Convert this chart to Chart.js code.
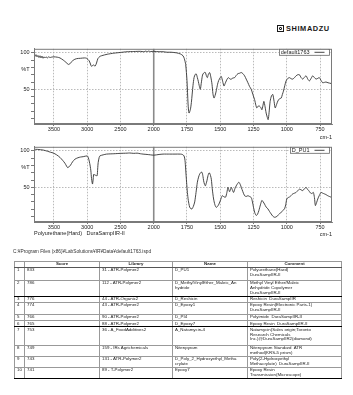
<!DOCTYPE html>
<html><head><meta charset="utf-8">
<script src="https://cdn.jsdelivr.net/npm/chart.js@4/dist/chart.umd.min.js"></script>
<style>
html,body{margin:0;padding:0;background:#fff;width:353px;height:395px;overflow:hidden;font-family:"Liberation Sans",Arial,sans-serif;color:#222;position:relative}
.abs{position:absolute}
canvas{position:absolute;left:0}
#c1{top:44px}
#c2{top:142px}
#logo{left:277px;top:24px;height:8px;display:flex;align-items:center;font-weight:bold;font-size:7.4px;letter-spacing:0.6px;color:#1a1a1a}
#logo .ic{width:5px;height:5px;border:1px solid #1a1a1a;margin-right:2px;position:relative}
#logo .ic i{position:absolute;left:1px;top:1px;width:3px;height:3px;border:0.7px solid #1a1a1a;box-sizing:border-box;border-radius:1px}
#sample{left:34px;top:230px;font-size:5.5px;white-space:pre;line-height:6px}
#path{left:13px;top:249px;font-size:4.8px;white-space:pre;line-height:6px;color:#333}
#tbl{position:absolute;left:14px;top:261px;border-collapse:collapse;table-layout:fixed;border:1px solid #000;font-size:4.4px;line-height:4.7px;color:#222}
#tbl td,#tbl th{border:1px solid #999;padding:0.5px 1.5px 0 2px;vertical-align:top;white-space:pre;overflow:hidden}
#tbl th{font-weight:bold;text-align:center;padding:0;height:4px;border-bottom:1px solid #555}
#tbl tr.thick td{border-bottom:1px solid #000}
</style>
</head><body>
<div id="logo" class="abs"><span class="ic"><i></i></span>SHIMADZU</div>
<canvas id="c1" width="353" height="98"></canvas>
<canvas id="c2" width="353" height="98"></canvas>
<div id="sample" class="abs">Polyurethane(Hard)   DuraSampIIR-II</div>
<div id="path" class="abs">C:¥Program Files (x86)¥LabSolutions¥IR¥Data¥default1763.ispd</div>
<table id="tbl"><colgroup><col style="width:10px"><col style="width:75px"><col style="width:73px"><col style="width:75px"><col style="width:94px"></colgroup><tbody id="tb"></tbody></table>
<script>
// ---------- data ----------
const xTickValues = [3500, 3000, 2500, 2000, 1750, 1500, 1250, 1000, 750];
const yTickValues = [10, 20, 30, 40, 50, 60, 70, 77, 80, 90, 100];
const yTickLabels = ['', '', '', '', '50', '', '', '%T', '', '', '100'];
const splitAt = 2000;

const topLabel = 'default1763';
const topWavenumbers = [3800,3785,3770,3755,3740,3725,3710,3695,3680,3665,3650,3635,3620,3600,3580,3560,3540,3500,3450,3410,3360,3320,3290,3275,3250,3210,3160,3100,3040,3010,2970,2945,2935,2920,2910,2895,2880,2860,2840,2810,2785,2700,2600,2500,2400,2300,2200,2150,2120,2100,2080,2050,2000,1960,1930,1900,1870,1830,1800,1780,1770,1760,1750,1742,1735,1725,1717,1705,1697,1688,1680,1672,1665,1658,1650,1643,1635,1630,1620,1612,1605,1597,1590,1580,1572,1562,1555,1547,1538,1530,1520,1512,1500,1492,1482,1472,1463,1455,1445,1437,1427,1417,1405,1392,1380,1367,1355,1342,1330,1317,1305,1292,1280,1267,1255,1242,1232,1225,1215,1205,1195,1187,1180,1172,1163,1155,1147,1140,1133,1125,1115,1105,1095,1087,1077,1067,1055,1042,1033,1025,1015,1005,992,980,967,955,942,930,917,905,892,880,867,855,842,830,817,805,792,780,767,755,742,730,717,705,690,667];
const topTransmittance = [97,95,97.5,94.5,96.5,93.5,96,93,95.5,92.5,94.5,93,94.5,93,94.5,93.5,94,94.5,94,93,90,87,84.5,84,86,90,92,92.5,93,92.5,89,83,81.5,82.5,83.5,82.5,82,86,92,95,96,98,99.5,100.5,101.5,101.8,102,101.5,102.3,101.6,102.3,101.8,102,101.5,101.5,100.8,100.8,100,98.5,96,92,84,62,30,17.5,22,32,55,66,70.5,71,66,61,55,50,58,68,71,73,73,69,66,70,73,68,57,44,38,42,48,57,62,66,67.5,61,54.5,58,61.5,65,66,64,64,65.5,66,69,71.5,72,73,71.5,68.5,64,59,54,50,43,36,28,24.5,27,27,25,22,27,33.5,26,17.5,12,8.5,18,33.5,41,43,33,24.5,29,34,37,38,43,47.5,55,61.5,65,66,64.5,64,66,68.5,70,70,66,64,66.5,68.5,64,61.5,65,68.5,66,64,65,66,62,59,59.5,60,59,58];

const bottomLabel = 'D_PU1';
const bottomWavenumbers = [3800,3750,3700,3660,3600,3550,3510,3460,3410,3370,3335,3310,3295,3275,3250,3220,3185,3140,3100,3060,3000,2985,2970,2955,2945,2935,2925,2920,2912,2905,2900,2890,2875,2860,2850,2843,2835,2820,2810,2760,2710,2600,2500,2400,2360,2300,2250,2200,2160,2100,2050,2000,1960,1930,1880,1840,1800,1785,1772,1765,1760,1753,1747,1740,1730,1720,1712,1702,1692,1682,1672,1663,1655,1645,1637,1630,1625,1618,1612,1606,1600,1592,1585,1580,1573,1567,1560,1550,1540,1530,1520,1510,1497,1485,1472,1460,1450,1442,1436,1430,1423,1417,1408,1400,1390,1380,1370,1360,1350,1342,1330,1317,1305,1292,1280,1267,1258,1250,1240,1230,1220,1210,1198,1187,1177,1167,1155,1142,1130,1117,1105,1092,1080,1067,1055,1042,1030,1017,1008,1000,990,980,967,955,942,930,917,905,892,880,867,855,845,835,825,817,808,800,792,785,776,767,755,742,730,717,705,692,680,667,660];
const bottomTransmittance = [102,102,101.5,101,99.5,98,97,94.5,91,87,83,79,77,78,80.5,85,88.5,90.5,91.5,92,93,91,86,79,72.5,62,56,54.5,60,67,68,67,66.5,66,66,75,84,91,93,94.5,95.5,96,96.5,96.8,97,96.5,96.8,96,95.5,95,94.5,94,95,95.5,95.5,95.5,95.5,95,93,87,75,57,43,32,23,20.5,20.5,24,30,43,57,64,68,70.5,70.5,65,59,54,52,55,59,66,69.5,69.5,66,61,48,34,26,22.5,24,27,33,38.5,37,36.5,43,50,47,44,47,50,46,43,48,52,55,57,54,50,44,38.5,37.5,38.5,37.5,36,30,22.5,15,11.5,13,18,26,32,30,27,23,20.5,17,13.5,10.5,9,9.5,11.5,13.5,16,18,20.5,26,34,36,36.5,39,41,42,43,45.5,47.5,46.5,45.5,48,50,47.5,45.5,43,41.5,42,43,36,25,29,34,39,43,42,41,40,38.5,37.5,36.5,36];

const tableHeaders = ['', 'Score', 'Library', 'Name', 'Comment'];
const ranks = ['1','2','3','4','5','6','7','8','9','10'];
const scores = ['833','786','776','774','766','765','753','749','743','741'];
const libraries = ['31 - ATR-Polymer2','112 - ATR-Polymer2','44 - ATR-Organic2','43 - ATR-Polymer2','90 - ATR-Polymer2','88 - ATR-Polymer2','36 - A_FoodAdditives2','159 - IRs Agrichemicals','131 - ATR-Polymer2','89 - T-Polymer2'];
const names = ['D_PU1','D_MethylVinylEther_Maleic_An\nhydride','D_Reshicin','D_Epoxy1','D_PI4','D_Epoxy7','A_Natamycin-4','Nitenpyram','D_Poly_2_Hydroxyethyl_Metha\ncrylate','Epoxy7'];
const comments = ['Polyurethane(Hard)\nDuraSampIIR-II','Methyl Vinyl Ether/Maleic\nAnhydride Copolymer\nDuraSampIIR-II','Reshicin  DuraSampIIR','Epoxy Resin(Electronic Parts-1)\nDuraSampIIR-II','Polyimide  DuraSampIIR-II','Epoxy Resin  DuraSampIIR-II','Natamycin(Sales origin;Toronto\nResearch Chemicals\nInc.)@DuraSampIIR2(diamond)','Nitenpyram Standard  ATR\nmethod(KRS-5 prism)','Poly(2-Hydroxyethyl\nMethacrylate)  DuraSampIIR-II','Epoxy Resin\nTransmission(Microscope)'];
const rowHeights = [13, 16, 5.5, 12, 4.5, 4.5, 18.5, 10, 10, 10.5];
const thickRows = [1, 5, 9];

// ---------- table ----------
(function(){
  const tb = document.getElementById('tb');
  const hr = document.createElement('tr');
  tableHeaders.forEach(h => { const th = document.createElement('th'); th.textContent = h; hr.appendChild(th); });
  tb.appendChild(hr);
  ranks.forEach((r, i) => {
    const tr = document.createElement('tr');
    tr.style.height = rowHeights[i] + 'px';
    if (thickRows.includes(i)) tr.className = 'thick';
    [r, scores[i], libraries[i], names[i], comments[i]].forEach(t => {
      const td = document.createElement('td'); td.textContent = t; tr.appendChild(td);
    });
    tb.appendChild(tr);
  });
})();

// ---------- split wavenumber scale ----------
function splitPos(v) { return v >= splitAt ? (splitAt - v) / 500 : (splitAt - v) / 250; }
class SplitScale extends Chart.LinearScale {
  static id = 'split';
  getPixelForValue(value) {
    if (value === null || value === undefined || isNaN(value)) return NaN;
    const pL = splitPos(this.max), pR = splitPos(this.min);
    return this.getPixelForDecimal((splitPos(value) - pL) / (pR - pL));
  }
  getValueForPixel(pixel) {
    const pL = splitPos(this.max), pR = splitPos(this.min);
    const p = pL + this.getDecimalForPixel(pixel) * (pR - pL);
    return p <= 0 ? splitAt - p * 500 : splitAt - p * 250;
  }
}
Chart.register(SplitScale);

const FONT = "'Liberation Sans', Arial, sans-serif";
const framePlugin = {
  id: 'frame',
  beforeDatasetsDraw(chart) {
    const {ctx, chartArea: a} = chart;
    const px = chart.scales.x.getPixelForValue(splitAt);
    ctx.save();
    ctx.strokeStyle = '#8a8a8a'; ctx.lineWidth = 1.6;
    ctx.beginPath(); ctx.moveTo(px, a.top); ctx.lineTo(px, a.bottom); ctx.stroke();
    ctx.restore();
  },
  afterDraw(chart) {
    const {ctx, chartArea: a} = chart;
    ctx.save();
    ctx.strokeStyle = '#7a7a7a'; ctx.lineWidth = 1;
    ctx.strokeRect(a.left + 0.5, a.top + 0.5, a.right - a.left - 1, a.bottom - a.top - 1);
    // legend box (inside plot, top right): label text followed by a line sample
    const ds = chart.data.datasets[0];
    ctx.font = '5.5px ' + FONT;
    const tw = ctx.measureText(ds.label).width;
    const lineW = 10, right = a.right - 3.5, top = a.top + 0.5, h = 6;
    const left = right - (2 + tw + 5 + lineW + 4);
    ctx.fillStyle = '#fff';
    ctx.fillRect(left, top, right - left, h);
    ctx.strokeStyle = '#666'; ctx.lineWidth = 0.8;
    ctx.strokeRect(Math.round(left) + 0.5, top, Math.round(right - left), h);
    ctx.fillStyle = '#222'; ctx.textBaseline = 'middle'; ctx.textAlign = 'left';
    ctx.fillText(ds.label, left + 2, top + h / 2 + 0.3);
    ctx.strokeStyle = ds.borderColor; ctx.lineWidth = 0.9;
    ctx.beginPath(); ctx.moveTo(right - 4 - lineW, top + h / 2); ctx.lineTo(right - 4, top + h / 2); ctx.stroke();
    ctx.restore();
  }
};

function makeChart(id, label, xs, ys, titlePad) {
  const font = {family: FONT, size: 5.5};
  return new Chart(document.getElementById(id), {
    type: 'line',
    data: {datasets: [{
      label: label,
      data: xs.map((w, i) => ({x: w, y: ys[i]})),
      borderColor: '#333', backgroundColor: '#333', borderWidth: 0.9,
      pointRadius: 0, tension: 0.25, fill: false
    }]},
    options: {
      responsive: false, animation: false, events: [],
      layout: {padding: {top: 4, right: 21, left: 0, bottom: 0}},
      plugins: {
        legend: {display: false},
        tooltip: {enabled: false}
      },
      scales: {
        x: {
          type: 'split', min: 660, max: 3800,
          afterFit: s => { s.height = 18; },
          afterBuildTicks: s => { s.ticks = xTickValues.map(v => ({value: v})); },
          ticks: {autoSkip: false, maxRotation: 0, minRotation: 0, font: font, color: '#222', padding: 0.5, callback: v => String(v)},
          grid: {color: c => (c.tick && c.tick.value === splitAt) ? 'rgba(0,0,0,0)' : '#a8a8a8', lineWidth: 0.8, tickColor: '#555', tickLength: 2},
          border: {display: true, color: '#7a7a7a', dash: [1.5, 1.5]},
          title: {display: true, text: 'cm-1', align: 'end', font: font, color: '#222', padding: {top: 0, bottom: titlePad}}
        },
        y: {
          min: 2.5, max: 105.5,
          afterFit: s => { s.width = 34; },
          afterBuildTicks: s => { s.ticks = yTickValues.map(v => ({value: v})); },
          ticks: {autoSkip: false, font: font, color: '#222', padding: 1.5, callback: v => yTickLabels[yTickValues.indexOf(v)]},
          grid: {color: c => (c.tick && (c.tick.value === 50 || c.tick.value === 100)) ? '#a8a8a8' : 'rgba(0,0,0,0)', lineWidth: 0.8,
                 tickColor: c => (c.tick && c.tick.value === 77) ? 'rgba(0,0,0,0)' : '#555', tickLength: 3},
          border: {display: true, color: '#7a7a7a', dash: [1.5, 1.5]}
        }
      }
    },
    plugins: [framePlugin]
  });
}
makeChart('c1', topLabel, topWavenumbers, topTransmittance, 1.5);
makeChart('c2', bottomLabel, bottomWavenumbers, bottomTransmittance, 2.5);
</script>
</body></html>
